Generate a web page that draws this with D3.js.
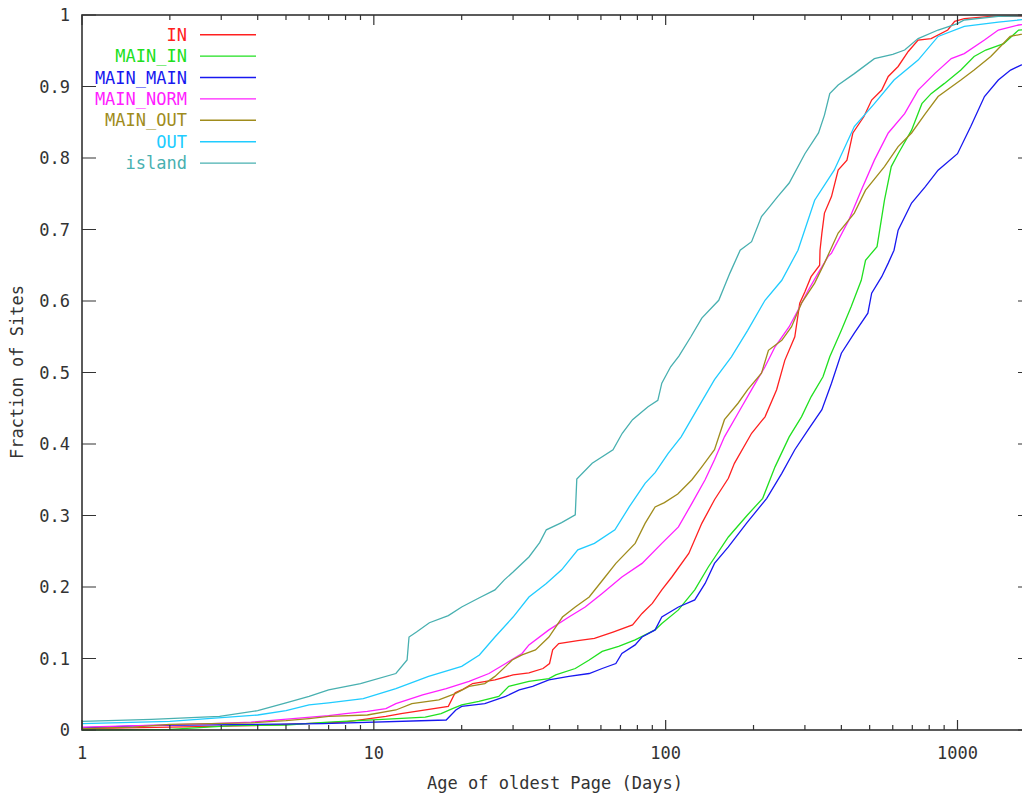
<!DOCTYPE html>
<html>
<head>
<meta charset="utf-8">
<script src="https://cdn.jsdelivr.net/npm/d3@7"></script>
<style>
  body { margin: 0; background: #fff; }
  text { font-family: "DejaVu Sans Mono", monospace; }
</style>
</head>
<body>
<div id="chart"></div>
<script>
// CDF of site age, one array of [days, fraction] per site class
const IN = [[1,0.002],[2,0.004],[3.8,0.006],[7.9,0.011],[11,0.019],[12.4,0.023],[18,0.033],[19,0.052],[20,0.056],[21.8,0.065],[26,0.07],[30,0.077],[34,0.08],[38,0.086],[40,0.093],[41,0.112],[43,0.121],[50,0.125],[57,0.128],[66,0.137],[77,0.147],[83,0.163],[90,0.177],[97,0.196],[105,0.214],[120,0.247],[133,0.289],[147,0.322],[164,0.352],[172,0.373],[197,0.415],[219,0.438],[240,0.476],[256,0.517],[277,0.55],[288,0.597],[300,0.613],[315,0.634],[337,0.65],[338,0.671],[343,0.695],[350,0.723],[370,0.746],[390,0.783],[418,0.797],[438,0.835],[478,0.858],[508,0.881],[550,0.895],[579,0.914],[626,0.928],[678,0.949],[733,0.965],[812,0.967],[926,0.979],[978,0.991],[1055,0.995],[1300,0.998],[1800,0.998]];
const MAIN_IN = [[1,0.0],[2,0.001],[3.3,0.006],[5,0.007],[7,0.011],[12,0.016],[15,0.018],[17,0.023],[18.6,0.03],[20,0.035],[22.9,0.04],[26.8,0.047],[29,0.061],[34,0.068],[39.8,0.072],[42,0.077],[49,0.086],[54.7,0.098],[60.6,0.11],[69,0.117],[78.6,0.126],[92,0.14],[97,0.149],[110.6,0.168],[125.8,0.196],[140,0.228],[164,0.27],[190,0.3],[215,0.324],[237,0.368],[265,0.41],[292,0.438],[315,0.466],[346,0.494],[365,0.522],[400,0.559],[432,0.592],[468,0.629],[484,0.657],[530,0.676],[562,0.741],[593,0.788],[626,0.806],[696,0.839],[755,0.876],[812,0.89],[900,0.904],[1027,0.923],[1140,0.942],[1250,0.951],[1440,0.96],[1620,0.979],[1800,0.98]];
const MAIN_MAIN = [[1,0.003],[1.6,0.006],[6.7,0.009],[17.7,0.014],[19.1,0.028],[20,0.033],[24,0.037],[28.3,0.047],[31.5,0.056],[35,0.061],[39.8,0.07],[46.6,0.075],[54.7,0.079],[60.6,0.086],[67.5,0.093],[70.8,0.107],[78.6,0.119],[83,0.13],[92,0.14],[97,0.158],[110.6,0.172],[125.8,0.182],[136.5,0.205],[147,0.233],[164,0.256],[190,0.29],[222,0.324],[250,0.359],[277,0.392],[308,0.42],[343,0.448],[370,0.485],[400,0.527],[443,0.555],[493,0.583],[508,0.611],[550,0.634],[579,0.653],[606,0.671],[626,0.699],[696,0.737],[776,0.76],[858,0.783],[1000,0.806],[1110,0.844],[1237,0.886],[1380,0.909],[1520,0.923],[1650,0.93],[1800,0.932]];
const MAIN_NORM = [[1,0.004],[2.8,0.009],[3.8,0.011],[7,0.02],[8,0.023],[9.5,0.026],[11,0.03],[11.9,0.037],[14.7,0.049],[17.7,0.058],[21.2,0.068],[24.8,0.079],[28.3,0.093],[32.2,0.107],[34,0.119],[39.8,0.14],[46.6,0.158],[53,0.172],[60.6,0.191],[70.8,0.214],[83,0.233],[97,0.261],[110.6,0.284],[123,0.317],[136.5,0.35],[147,0.378],[159,0.41],[177,0.443],[197,0.476],[219,0.508],[237,0.536],[265,0.564],[284,0.587],[308,0.615],[333,0.639],[360,0.662],[370,0.667],[424,0.713],[468,0.755],[519,0.797],[579,0.835],[659,0.862],[733,0.895],[835,0.918],[952,0.939],[1055,0.946],[1237,0.965],[1380,0.979],[1620,0.986],[1800,0.988]];
const MAIN_OUT = [[1,0.002],[1.5,0.004],[2,0.008],[3.8,0.01],[5,0.013],[6,0.016],[7,0.019],[9.5,0.021],[11.9,0.028],[13.5,0.037],[16.7,0.042],[19,0.051],[21.2,0.061],[24,0.065],[26,0.075],[28.3,0.089],[29.8,0.098],[32.2,0.105],[35.8,0.112],[39.8,0.13],[44.3,0.158],[49,0.172],[54.7,0.186],[62,0.214],[67.5,0.233],[78.6,0.261],[85,0.289],[92,0.312],[99,0.318],[110,0.33],[123,0.35],[133,0.368],[147,0.392],[159,0.434],[177,0.457],[191,0.476],[213,0.499],[225,0.531],[250,0.545],[270,0.564],[292,0.597],[324,0.625],[350,0.653],[390,0.695],[443,0.723],[484,0.755],[562,0.788],[626,0.816],[696,0.835],[776,0.862],[858,0.886],[1027,0.909],[1140,0.923],[1300,0.942],[1515,0.97],[1800,0.976]];
const OUT = [[1,0.009],[2,0.012],[4,0.021],[5,0.027],[6,0.035],[7,0.038],[9.2,0.044],[11.9,0.058],[15.4,0.075],[20,0.089],[23,0.105],[26,0.13],[30,0.158],[34,0.186],[39,0.205],[44,0.224],[50,0.252],[57,0.261],[67,0.28],[75,0.312],[85,0.345],[92,0.36],[102,0.387],[113,0.41],[128,0.448],[147,0.49],[168,0.522],[191,0.559],[219,0.601],[250,0.629],[284,0.671],[300,0.7],[324,0.741],[378,0.783],[443,0.844],[519,0.876],[606,0.909],[733,0.937],[858,0.97],[1055,0.984],[1380,0.99],[1800,0.995]];
const island = [[1,0.012],[1.73,0.015],[2.96,0.019],[4,0.027],[5,0.038],[6,0.047],[7,0.056],[9,0.065],[11.9,0.079],[13,0.098],[13.2,0.13],[14,0.137],[15.5,0.15],[18,0.16],[20,0.172],[23,0.185],[26,0.196],[28,0.21],[30,0.221],[34,0.242],[37,0.262],[39,0.28],[44,0.29],[49,0.301],[49.6,0.351],[56,0.373],[66,0.392],[71,0.415],[77,0.434],[87,0.452],[94,0.461],[97,0.485],[104,0.508],[111,0.523],[122,0.55],[133,0.576],[152,0.601],[166,0.639],[180,0.671],[197,0.683],[213,0.718],[225,0.73],[242,0.746],[265,0.765],[300,0.806],[334,0.835],[350,0.86],[365,0.89],[390,0.902],[443,0.918],[519,0.939],[600,0.945],[659,0.951],[733,0.967],[858,0.979],[1000,0.988],[1055,0.993],[1380,0.998],[1800,0.999]];

const seriesNames = ["IN", "MAIN_IN", "MAIN_MAIN", "MAIN_NORM", "MAIN_OUT", "OUT", "island"];
const seriesData = [IN, MAIN_IN, MAIN_MAIN, MAIN_NORM, MAIN_OUT, OUT, island];
const seriesColors = ["#ff2020", "#20e020", "#1818f0", "#ff20ff", "#a08c1c", "#20ccff", "#48b0b0"];

const yTicks = [0, 0.1, 0.2, 0.3, 0.4, 0.5, 0.6, 0.7, 0.8, 0.9, 1];
const xTicks = [1, 10, 100, 1000];

const width = 1022, height = 793;
const plotLeft = 82, plotRight = 1032, plotTop = 15, plotBottom = 730;

const svg = d3.select("#chart").append("svg")
    .attr("width", width)
    .attr("height", height);

const x = d3.scaleLog().domain([1, 1800]).range([plotLeft, plotRight]);
const y = d3.scaleLinear().domain([0, 1]).range([plotBottom, plotTop]);

// clip lines to plot box
svg.append("clipPath").attr("id", "clip")
    .append("rect")
    .attr("x", plotLeft).attr("y", plotTop - 1)
    .attr("width", plotRight - plotLeft).attr("height", plotBottom - plotTop + 2);

const line = d3.line()
    .x(d => x(d[0]))
    .y(d => y(d[1]));

const lines = svg.append("g").attr("clip-path", "url(#clip)");
seriesData.forEach((s, i) => {
    lines.append("path")
        .datum(s)
        .attr("d", line)
        .attr("fill", "none")
        .attr("stroke", seriesColors[i])
        .attr("stroke-width", 1.3);
});

// ticks: major/minor on x, mirrored at top; y mirrored at right
const axisColor = "#333";
const minor = [];
for (let dec = 1; dec <= 1000; dec *= 10) {
    for (let m = 2; m <= 9; m++) {
        if (dec * m <= 1800) minor.push(dec * m);
    }
}
const tickG = svg.append("g").attr("stroke", axisColor).attr("stroke-width", 1.2);

tickG.selectAll(".xmaj").data(xTicks).enter().append("path")
    .attr("d", d => `M${x(d)},${plotBottom}v-10M${x(d)},${plotTop}v10`);
tickG.selectAll(".xmin").data(minor).enter().append("path")
    .attr("d", d => `M${x(d)},${plotBottom}v-5M${x(d)},${plotTop}v5`);
tickG.selectAll(".ymaj").data(yTicks).enter().append("path")
    .attr("d", d => `M${plotLeft},${y(d)}h14M${plotRight},${y(d)}h-14`);

// border
svg.append("rect")
    .attr("x", plotLeft).attr("y", plotTop)
    .attr("width", plotRight - plotLeft).attr("height", plotBottom - plotTop)
    .attr("fill", "none")
    .attr("stroke", axisColor)
    .attr("stroke-width", 1.6);

// tick labels
svg.selectAll(".ylab").data(yTicks).enter().append("text")
    .attr("x", 70)
    .attr("y", d => y(d))
    .attr("dy", "0.36em")
    .attr("text-anchor", "end")
    .attr("font-size", 17)
    .attr("fill", "#333")
    .text(d => d3.format("~g")(d));

svg.selectAll(".xlab").data(xTicks).enter().append("text")
    .attr("x", d => x(d))
    .attr("y", 759)
    .attr("text-anchor", "middle")
    .attr("font-size", 17)
    .attr("fill", "#333")
    .text(d => d);

// axis titles
svg.append("text")
    .attr("x", 555).attr("y", 789)
    .attr("text-anchor", "middle")
    .attr("font-size", 17)
    .attr("fill", "#333")
    .text("Age of oldest Page (Days)");

svg.append("text")
    .attr("transform", "translate(23,372) rotate(-90)")
    .attr("text-anchor", "middle")
    .attr("font-size", 17)
    .attr("fill", "#333")
    .text("Fraction of Sites");

// legend
const legend = svg.selectAll(".legend").data(seriesNames).enter().append("g")
    .attr("transform", (d, i) => `translate(0,${34.7 + i * 21.4})`);
legend.append("text")
    .attr("x", 187)
    .attr("dy", "0.36em")
    .attr("text-anchor", "end")
    .attr("font-size", 17)
    .attr("fill", (d, i) => seriesColors[i])
    .text(d => d);
legend.append("line")
    .attr("x1", 200).attr("x2", 256)
    .attr("stroke", (d, i) => seriesColors[i])
    .attr("stroke-width", 1.4);
</script>
</body>
</html>
